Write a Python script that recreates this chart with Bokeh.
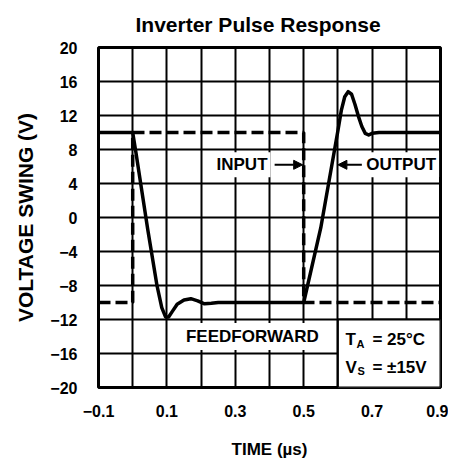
from bokeh.plotting import figure
from bokeh.models import FixedTicker, Label, Arrow, NormalHead, Range1d
from bokeh.embed import file_html
from bokeh.resources import INLINE

# ---------------- data ----------------
title_text = "Inverter Pulse Response"
x_label = "TIME (µs)"
y_label = "VOLTAGE SWING (V)"

x_ticks = [-0.1, 0.1, 0.3, 0.5, 0.7, 0.9]
x_tick_labels = ["−0.1", "0.1", "0.3", "0.5", "0.7", "0.9"]
x_grid = [-0.1, 0.0, 0.1, 0.2, 0.3, 0.4, 0.5, 0.6, 0.7, 0.8, 0.9]
y_ticks = [-20, -16, -12, -8, -4, 0, 4, 8, 12, 16, 20]
y_tick_labels = ["−20", "−16", "−12", "−8", "−4", "0", "4", "8", "12", "16", "20"]

input_t = [-0.1, 0.0, 0.0, 0.5, 0.5, 0.9]
input_v = [-10, -10, 10, 10, -10, -10]

output_t = [-0.1, 0.0, 0.01, 0.044, 0.071, 0.085, 0.096, 0.105, 0.115, 0.13, 0.15,
            0.17, 0.19, 0.21, 0.23, 0.25, 0.5, 0.55, 0.6, 0.61, 0.62, 0.63, 0.64,
            0.65, 0.66, 0.67, 0.68, 0.69, 0.70, 0.72, 0.9]
output_v = [10, 10, 7.5, -1.4, -8.0, -10.6, -11.7, -11.7, -11.1, -10.2, -9.7,
            -9.55, -9.8, -10.15, -10.1, -10.0, -10.0, -1.2, 10.2, 12.6, 14.2, 14.8, 14.5,
            13.3, 11.9, 10.7, 9.9, 9.7, 9.9, 10.0, 10.0]

# annotation box (T_A / V_S)
box_left, box_right, box_bottom, box_top = 0.6, 0.9, -20, -12

# ---------------- figure ----------------
FONT = "Liberation Sans"

p = figure(width=448, height=461, output_backend="svg", toolbar_location=None,
           x_range=Range1d(-0.1, 0.9), y_range=Range1d(-20, 20),
           min_border_left=98, min_border_right=8, min_border_top=47, min_border_bottom=70)

p.title.text = title_text
p.title.align = "left"
p.title.offset = 37
p.title.standoff = 19
p.title.vertical_align = "top"
p.title.text_font = FONT
p.title.text_font_size = "21px"
p.title.text_font_style = "bold"
p.title.text_color = "black"

p.outline_line_color = "black"
p.outline_line_width = 3
p.outline_line_alpha = 1.0
p.background_fill_color = "white"
p.border_fill_color = "white"

p.xgrid.ticker = FixedTicker(ticks=x_grid)
p.ygrid.ticker = FixedTicker(ticks=y_ticks)
for g in (p.xgrid, p.ygrid):
    g.grid_line_color = "black"
    g.grid_line_width = 2
    g.grid_line_alpha = 1.0

p.xaxis.ticker = FixedTicker(ticks=x_ticks)
p.xaxis.major_label_overrides = {t: s for t, s in zip(x_ticks, x_tick_labels)}
p.yaxis.ticker = FixedTicker(ticks=y_ticks)
p.yaxis.major_label_overrides = {t: s for t, s in zip(y_ticks, y_tick_labels)}

for ax in (p.xaxis, p.yaxis):
    ax.axis_line_color = None
    ax.major_tick_line_color = None
    ax.minor_tick_line_color = None
    ax.major_label_text_font = FONT
    ax.major_label_text_font_style = "bold"
    ax.major_label_text_font_size = "16px"
    ax.major_label_text_color = "black"
    ax.axis_label_text_font = FONT
    ax.axis_label_text_font_style = "bold"
    ax.axis_label_text_color = "black"

p.xaxis.axis_label = x_label
p.yaxis.axis_label = y_label
p.xaxis.axis_label_text_font_size = "17px"
p.yaxis.axis_label_text_font_size = "21px"
p.xaxis.major_label_standoff = 11
p.yaxis.major_label_standoff = 15
p.xaxis.axis_label_standoff = 20
p.yaxis.axis_label_standoff = 10

# box for T_A / V_S
p.quad(left=[box_left], right=[box_right], bottom=[box_bottom], top=[box_top],
       fill_color="white", line_color="black", line_width=2)

# traces
p.line(input_t, input_v, line_color="black", line_width=3.5, line_dash="12 5")
p.line(output_t, output_v, line_color="black", line_width=3.5, line_join="round")

# labels
def lab(x, y, text, align="left", size="17px", xo=0, yo=0, bg=None, pad=0):
    l = Label(x=x, y=y, text=text, text_align=align, text_baseline="middle",
              text_font=FONT, text_font_style="bold", text_font_size=size,
              text_color="black", x_offset=xo, y_offset=yo)
    if bg is not None:
        l.background_fill_color = bg
        l.padding = pad
    p.add_layout(l)

lab(0.403, 6.2, "INPUT", align="right", bg="white", pad=3)
lab(0.674, 6.2, "OUTPUT", align="left", bg="white", pad=3)
lab(0.35, -14.0, "FEEDFORWARD", align="center", bg="white", pad=4)

p.add_layout(Arrow(end=NormalHead(size=9, fill_color="black", line_color="black"),
                   x_start=0.415, y_start=6.2, x_end=0.497, y_end=6.2,
                   line_width=2, line_color="black"))
p.add_layout(Arrow(end=NormalHead(size=9, fill_color="black", line_color="black"),
                   x_start=0.67, y_start=6.2, x_end=0.6, y_end=6.2,
                   line_width=2, line_color="black"))

lab(0.622, -14.4, "T")
lab(0.622, -14.4, "A", size="11px", xo=11, yo=-4)
lab(0.622, -14.4, "= 25°C", xo=27)
lab(0.622, -17.6, "V")
lab(0.622, -17.6, "S", size="11px", xo=12, yo=-4)
lab(0.622, -17.6, "= ±15V", xo=27)

open("out.html", "w").write(file_html(p, INLINE))
